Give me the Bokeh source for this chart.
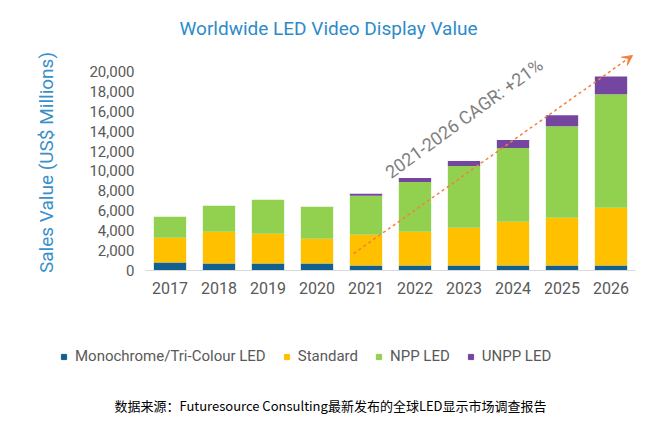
from bokeh.plotting import figure
from bokeh.layouts import column, row
from bokeh.models import ColumnDataSource, Legend, LegendItem, Label, Arrow, VeeHead, NumeralTickFormatter, FixedTicker, Range1d, Title
from bokeh.embed import file_html
from bokeh.resources import INLINE

years = ["2017","2018","2019","2020","2021","2022","2023","2024","2025","2026"]
mono = [800,700,700,700,500,500,500,500,500,500]
standard = [2500,3200,3000,2500,3100,3400,3800,4400,4800,5800]
npp = [2100,2600,3400,3200,3900,5000,6200,7400,9200,11400]
unpp = [0,0,0,0,200,400,500,800,1100,1800]
series = ["Monochrome/Tri-Colour LED","Standard","NPP LED","UNPP LED"]
colors = ["#12608f","#ffc000","#92d050","#7446a0"]

xs = list(range(len(years)))
src = ColumnDataSource(dict(x=xs, mono=mono, standard=standard, npp=npp, unpp=unpp))

p = figure(width=657, height=300, output_backend="svg", toolbar_location=None,
           x_range=Range1d(-0.5, 9.5), y_range=Range1d(0, 21700),
           min_border_left=145, min_border_right=22, min_border_top=52, min_border_bottom=30)
p.outline_line_color = None
p.grid.grid_line_color = None
r = p.vbar_stack(["mono","standard","npp","unpp"], x="x", width=0.66, color=colors, source=src, line_color=None)

p.add_layout(Title(text="Worldwide LED Video Display Value", align="left", offset=34,
                   text_font_size="19px", text_font_style="normal", text_color="#2e8bc9",
                   text_font="Roboto", standoff=29), "above")

p.xaxis.ticker = FixedTicker(ticks=xs)
p.xaxis.major_label_overrides = {i: y for i, y in enumerate(years)}
p.xaxis.major_tick_line_color = None
p.xaxis.minor_tick_line_color = None
p.xaxis.axis_line_color = "#d9d9d9"
p.xaxis.major_label_text_font_size = "16px"
p.xaxis.major_label_text_color = "#595959"
p.xaxis.major_label_text_font = "Roboto"

p.yaxis.ticker = FixedTicker(ticks=list(range(0, 20001, 2000)))
p.yaxis.formatter = NumeralTickFormatter(format="0,0")
p.yaxis.axis_line_color = None
p.yaxis.major_tick_line_color = None
p.yaxis.minor_tick_line_color = None
p.yaxis.major_label_text_font_size = "15px"
p.yaxis.major_label_text_color = "#595959"
p.yaxis.major_label_text_font = "Roboto"
p.yaxis.axis_label = "Sales Value (US$ Millions)"
p.yaxis.axis_label_text_font_size = "19px"
p.yaxis.axis_label_text_font_style = "normal"
p.yaxis.axis_label_text_color = "#3a8fc9"
p.yaxis.axis_label_text_font = "Roboto"
p.yaxis.axis_label_standoff = 28

p.add_layout(Arrow(x_start=3.75, y_start=1700, x_end=9.44, y_end=21600,
                   line_color="#f4803c", line_width=1.5, line_dash="3 3",
                   end=VeeHead(size=10, fill_color="#f4803c", line_color="#f4803c")))
p.add_layout(Label(x=6.0, y=15300, text="2021-2026 CAGR: +21%", angle=36, angle_units="deg",
                   text_align="center", text_baseline="middle", text_font_size="18px",
                   text_color="#7f7f7f", text_font="Roboto"))

# legend + footnote panel
q = figure(width=657, height=121, output_backend="svg", toolbar_location=None,
           x_range=Range1d(0, 657), y_range=Range1d(0, 121),
           min_border=0, x_axis_location=None, y_axis_location=None)
q.outline_line_color = None
q.grid.grid_line_color = None
dummies = [q.scatter(x=[-100], y=[-100], marker="square", size=13, color=c) for c in colors]
items = [LegendItem(label=s, renderers=[d]) for s, d in zip(series, dummies)]
leg = Legend(items=items, orientation="horizontal", location=(57, 56),
             label_text_font_size="15px", label_text_color="#595959", label_text_font="Roboto",
             glyph_width=13, glyph_height=13, spacing=14, label_standoff=5,
             background_fill_alpha=0, border_line_color=None)
q.add_layout(leg, "center")
q.add_layout(Label(x=330, y=16, text="数据来源：Futuresource Consulting最新发布的全球LED显示市场调查报告",
                   text_align="center", text_baseline="middle", text_font_size="13px",
                   text_color="#000000", text_font="Noto Sans CJK SC"))

open("out.html", "w").write(file_html(column(row(p), row(q), spacing=0), INLINE))
